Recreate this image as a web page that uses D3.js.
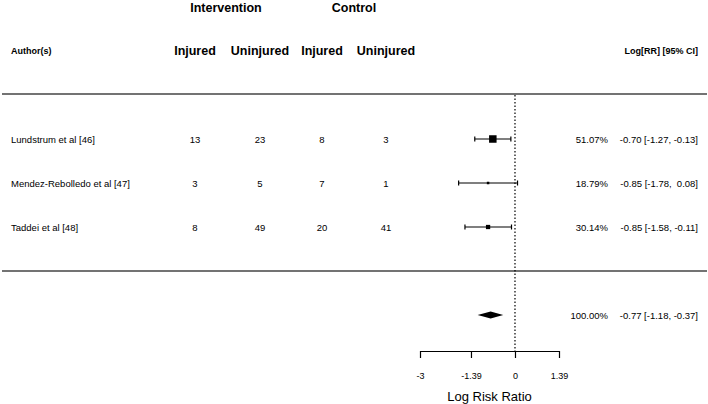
<!DOCTYPE html>
<html><head><meta charset="utf-8">
<script src="https://cdn.jsdelivr.net/npm/d3@7"></script>
<style>body{margin:0;background:#fff}svg{display:block}text{font-family:"Liberation Sans",Arial,sans-serif;fill:#000}</style>
</head><body><svg id="c" width="708" height="404"></svg>
<script>
const authors = ["Lundstrum et al [46]", "Mendez-Rebolledo et al [47]", "Taddei et al [48]"];
const intInjured = [13, 3, 8];
const intUninjured = [23, 5, 49];
const ctlInjured = [8, 7, 20];
const ctlUninjured = [3, 1, 41];
const estimate = [-0.70, -0.85, -0.85];
const ciLower = [-1.27, -1.78, -1.58];
const ciUpper = [-0.13, 0.08, -0.11];
const weights = [51.07, 18.79, 30.14];
const summary = {est: -0.77, lo: -1.18, hi: -0.37, w: 100.00};
const tickValues = [-3, -1.39, 0, 1.39];

const svg = d3.select("#c");
const x = d3.scaleLinear().domain([-3, 1.39]).range([420, 559]);
const rowY = d3.scalePoint().domain(authors).range([139, 227]);
const sz = d3.scaleLinear().domain(d3.extent(weights)).range([2.5, 7.5]);
const f2 = d3.format(".2f");
const fmt = v => (v < 0 ? "-" : " ") + f2(Math.abs(v));

// headers
svg.append("text").attr("x", 226).attr("y", 12).attr("text-anchor", "middle").attr("font-size", 12.5).attr("font-weight", "bold").text("Intervention");
svg.append("text").attr("x", 354).attr("y", 12).attr("text-anchor", "middle").attr("font-size", 12.5).attr("font-weight", "bold").text("Control");
svg.append("text").attr("x", 11).attr("y", 54).attr("font-size", 9).attr("font-weight", "bold").text("Author(s)");
const colX = [195, 260, 322, 386];
["Injured", "Uninjured", "Injured", "Uninjured"].forEach((t, i) =>
  svg.append("text").attr("x", colX[i]).attr("y", 55).attr("text-anchor", "middle").attr("font-size", 12.5).attr("font-weight", "bold").text(t));
svg.append("text").attr("x", 698).attr("y", 54).attr("text-anchor", "end").attr("font-size", 9).attr("font-weight", "bold").text("Log[RR] [95% CI]");

// separators
svg.append("line").attr("x1", 2).attr("x2", 707).attr("y1", 94).attr("y2", 94).attr("stroke", "#444").attr("stroke-width", 1.5);
svg.append("line").attr("x1", 2).attr("x2", 707).attr("y1", 271).attr("y2", 271).attr("stroke", "#444").attr("stroke-width", 1.5);

// reference line
svg.append("line").attr("x1", x(0)).attr("x2", x(0)).attr("y1", 95).attr("y2", 351).attr("stroke", "#000").attr("stroke-width", 1.2).attr("stroke-dasharray", "1.5,2");

// rows
authors.forEach((a, i) => {
  const y = rowY(a);
  svg.append("text").attr("x", 11).attr("y", y + 3.5).attr("font-size", 9.5).text(a);
  [intInjured[i], intUninjured[i], ctlInjured[i], ctlUninjured[i]].forEach((v, j) =>
    svg.append("text").attr("x", colX[j]).attr("y", y + 3.5).attr("text-anchor", "middle").attr("font-size", 9.5).text(v));
  const g = svg.append("g").attr("stroke", "#000").attr("stroke-width", 1.2);
  g.append("line").attr("x1", x(ciLower[i])).attr("x2", x(ciUpper[i])).attr("y1", y).attr("y2", y);
  g.append("line").attr("x1", x(ciLower[i])).attr("x2", x(ciLower[i])).attr("y1", y - 2.5).attr("y2", y + 2.5);
  g.append("line").attr("x1", x(ciUpper[i])).attr("x2", x(ciUpper[i])).attr("y1", y - 2.5).attr("y2", y + 2.5);
  const s = sz(weights[i]);
  svg.append("rect").attr("x", x(estimate[i]) - s / 2).attr("y", y - s / 2).attr("width", s).attr("height", s).attr("fill", "#000");
  svg.append("text").attr("x", 608).attr("y", y + 3.5).attr("text-anchor", "end").attr("font-size", 9.5).text(f2(weights[i]) + "%");
  svg.append("text").attr("x", 698).attr("y", y + 3.5).attr("text-anchor", "end").attr("font-size", 9.5).attr("xml:space", "preserve")
    .text(fmt(estimate[i]).trim() + " [" + fmt(ciLower[i]).trim() + ", " + fmt(ciUpper[i]) + "]");
});

// summary
const sy = 315;
svg.append("polygon").attr("points", [[x(summary.lo), sy], [x(summary.est), sy - 3.5], [x(summary.hi), sy], [x(summary.est), sy + 3.5]].map(p => p.join(",")).join(" ")).attr("fill", "#000");
svg.append("text").attr("x", 608).attr("y", sy + 3.5).attr("text-anchor", "end").attr("font-size", 9.5).text(f2(summary.w) + "%");
svg.append("text").attr("x", 698).attr("y", sy + 3.5).attr("text-anchor", "end").attr("font-size", 9.5)
  .text(fmt(summary.est).trim() + " [" + fmt(summary.lo).trim() + ", " + fmt(summary.hi).trim() + "]");

// axis
const axis = d3.axisBottom(x).tickValues(tickValues).tickSize(7).tickSizeOuter(0).tickFormat(d => String(d));
const ag = svg.append("g").attr("transform", "translate(0,351)").call(axis);
ag.select(".domain").attr("stroke", "#000").attr("stroke-width", 1.2);
ag.selectAll(".tick line").attr("stroke", "#000").attr("stroke-width", 1.2);
ag.selectAll(".tick text").attr("font-size", 9).attr("font-family", "Liberation Sans, Arial, sans-serif").attr("dy", "2em").attr("fill", "#000");
svg.append("text").attr("x", (x(-3) + x(1.39)) / 2).attr("y", 401).attr("text-anchor", "middle").attr("font-size", 13).text("Log Risk Ratio");
</script></body></html>
